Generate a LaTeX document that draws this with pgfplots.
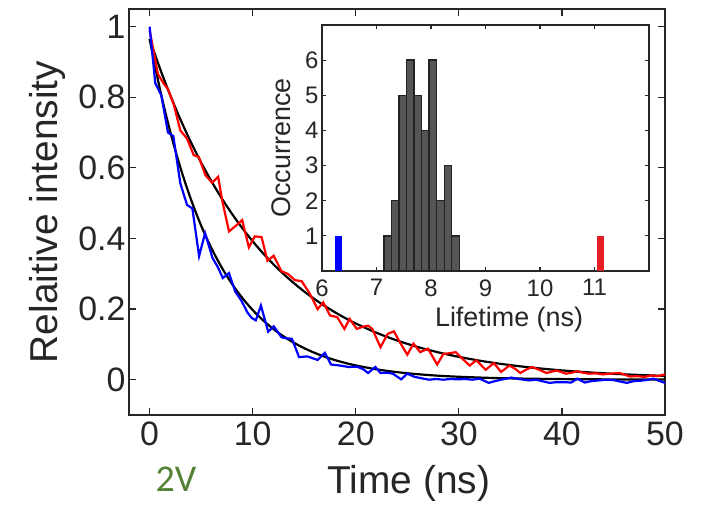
\documentclass[border=0pt]{standalone}
\usepackage{fontspec}
\setmainfont{Liberation Sans}
\newfontfamily\calib{Carlito}
\usepackage{pgfplots}
\pgfplotsset{compat=1.18}
\definecolor{axc}{RGB}{38,38,38}
\definecolor{histfill}{RGB}{85,85,85}
\definecolor{histedge}{RGB}{35,35,35}
\definecolor{gv}{RGB}{84,130,53}
\definecolor{hred}{RGB}{228,30,36}
\begin{document}
\begin{tikzpicture}
\path[use as bounding box] (0,0) rectangle (702bp,507bp);
\begin{axis}[
  at={(129bp,92bp)}, anchor=south west,
  width=536bp, height=406bp, scale only axis,
  xmin=-2, xmax=50, ymin=-0.1, ymax=1.05,
  xtick={0,10,20,30,40,50}, ytick={0,0.2,0.4,0.6,0.8,1},
  tick align=inside, major tick length=7bp,
  axis line style={axc, line width=1.6bp},
  every tick/.style={axc, line width=1.2bp},
  tick label style={font=\fontsize{34}{34}\selectfont, text=axc},
  xticklabel style={yshift=-3bp},
  label style={font=\fontsize{39}{39}\selectfont, text=axc},
  /pgf/number format/assume math mode=true,
  xlabel={Time (ns)}, ylabel={Relaitive intensity},
  xlabel style={at={(axis description cs:0.522,-0.168)}, anchor=center},
  ylabel style={at={(axis description cs:-0.153,0.5)}, anchor=center},
  clip=true,
]
\addplot[black, line width=2.2bp, smooth] table {
0 0.965
1 0.823
2 0.7025
3 0.5994
4 0.5114
5 0.4363
6 0.3723
7 0.3176
8 0.2710
9 0.2312
10 0.1973
11 0.1684
12 0.1437
13 0.1226
14 0.1046
15 0.0892
16 0.0761
17 0.0650
18 0.0554
19 0.0473
20 0.0404
22 0.0294
24 0.0214
26 0.0156
28 0.0113
30 0.0083
33 0.0051
36 0.0032
40 0.0017
45 0.0008
50 0.0003
};
\addplot[black, line width=2.2bp, smooth] table {
0 0.965
1 0.8818
2 0.8058
3 0.7365
4 0.6730
5 0.6150
6 0.5620
7 0.5136
8 0.4694
9 0.4289
10 0.3920
11 0.3582
12 0.3273
13 0.2991
14 0.2734
15 0.2498
16 0.2283
17 0.2086
18 0.1907
19 0.1742
20 0.1592
22 0.1330
24 0.1111
26 0.0927
28 0.0775
30 0.0647
32 0.0540
34 0.0451
36 0.0377
38 0.0315
40 0.0263
42 0.0219
44 0.0183
46 0.0153
48 0.0128
50 0.0107
};
\addplot[red, line width=2.2bp] table {
0 0.99
0.8 0.866
1.36 0.839
1.78 0.823
2.33 0.781
2.98 0.706
3.63 0.683
4.28 0.636
4.77 0.631
5.42 0.579
6.06 0.558
6.65 0.575
7.03 0.509
7.7 0.42
8.33 0.435
8.98 0.452
9.63 0.375
10.2 0.406
10.86 0.404
11.43 0.337
12.04 0.351
12.8 0.307
13.4 0.30
14.1 0.282
14.75 0.279
15.5 0.246
16.3 0.20
16.85 0.219
17.5 0.182
18.2 0.177
18.9 0.144
19.4 0.172
20.1 0.144
20.7 0.15
21.2 0.153
21.6 0.144
22.4 0.092
23.1 0.13
23.7 0.137
24.3 0.105
25.0 0.071
25.6 0.102
26.25 0.078
27.0 0.088
27.9 0.043
28.5 0.073
29.1 0.075
29.7 0.078
30.4 0.058
31.05 0.040
31.7 0.055
32.6 0.028
33.4 0.047
34.1 0.022
34.9 0.040
35.5 0.03
35.96 0.019
36.5 0.028
37.1 0.036
37.8 0.028
38.5 0.019
39.5 0.026
40.4 0.017
41.0 0.02
41.5 0.024
42.0 0.02
42.6 0.017
43.3 0.018
43.9 0.015
44.7 0.017
45.6 0.019
46.6 0.009
47.3 0.01
48.0 0.008
48.7 0.012
49.3 0.01
50.0 0.015
};
\addplot[blue, line width=2.2bp] table {
0 1.00
0.55 0.84
1.14 0.805
1.78 0.70
2.3 0.69
2.98 0.556
3.63 0.495
4.15 0.485
4.8 0.35
5.38 0.415
6.1 0.345
6.6 0.32
7.1 0.288
7.7 0.302
8.3 0.25
8.9 0.224
9.5 0.19
9.9 0.175
10.3 0.168
10.8 0.21
11.5 0.136
12.05 0.151
12.8 0.12
13.3 0.117
13.8 0.116
14.5 0.064
15.3 0.066
16.3 0.056
17.0 0.076
17.6 0.043
18.5 0.040
19.3 0.036
20.1 0.037
20.7 0.03
21.2 0.019
21.9 0.036
22.4 0.019
23.0 0.02
23.6 0.017
24.4 0.001
25.0 0.017
25.7 0.008
26.4 0.004
27.1 0.0
27.8 0.002
28.5 0.0
29.2 0.002
29.9 0.001
30.6 0.002
31.3 0.0
32.0 0.003
32.9 -0.009
33.5 -0.004
34.1 0.0
35.1 0.006
35.8 0.002
36.8 -0.002
37.5 0.0
38.2 -0.005
38.8 -0.009
39.5 -0.007
40.2 -0.007
40.9 -0.008
41.5 0.003
42.2 -0.008
42.9 -0.004
43.6 -0.002
44.3 0.0
45.0 -0.001
45.6 -0.005
46.3 -0.009
47.0 -0.004
47.6 -0.003
48.2 -0.001
48.9 0.003
49.5 -0.004
50.0 -0.009
};
\end{axis}
\begin{axis}[
  at={(322bp,236bp)}, anchor=south west,
  width=327bp, height=246bp, scale only axis,
  xmin=6, xmax=12, ymin=0, ymax=7,
  xtick={6,7,8,9,10,11}, ytick={1,2,3,4,5,6},
  tick align=inside, major tick length=4bp,
  axis background/.style={fill=white},
  axis line style={axc, line width=1.6bp},
  every tick/.style={axc, line width=1.2bp},
  tick label style={font=\fontsize{24}{24}\selectfont, text=axc},
  xticklabel style={yshift=-5bp},
  label style={font=\fontsize{27}{27}\selectfont, text=axc},
  /pgf/number format/assume math mode=true,
  xlabel={Lifetime (ns)}, ylabel={Occurrence},
  xlabel style={at={(axis description cs:0.572,-0.199)}, anchor=center},
  ylabel style={at={(axis description cs:-0.125,0.5)}, anchor=center},
]
\addplot[ybar, bar width=0.1384, bar shift=0pt, fill=histfill, draw=histedge, line width=1.3bp] coordinates {
(7.204,1) (7.343,2) (7.481,5) (7.619,6) (7.758,5) (7.896,4) (8.035,6) (8.173,2) (8.311,3) (8.450,1)
};
\addplot[ybar, bar width=0.14, bar shift=0pt, fill=blue, draw=none] coordinates {(6.30,1)};
\addplot[ybar, bar width=0.14, bar shift=0pt, fill=hred, draw=none] coordinates {(11.11,1)};
\end{axis}
\node[text=gv, font=\calib\fontsize{38}{38}\selectfont] at (176bp,28bp) {2V};
\end{tikzpicture}
\end{document}
